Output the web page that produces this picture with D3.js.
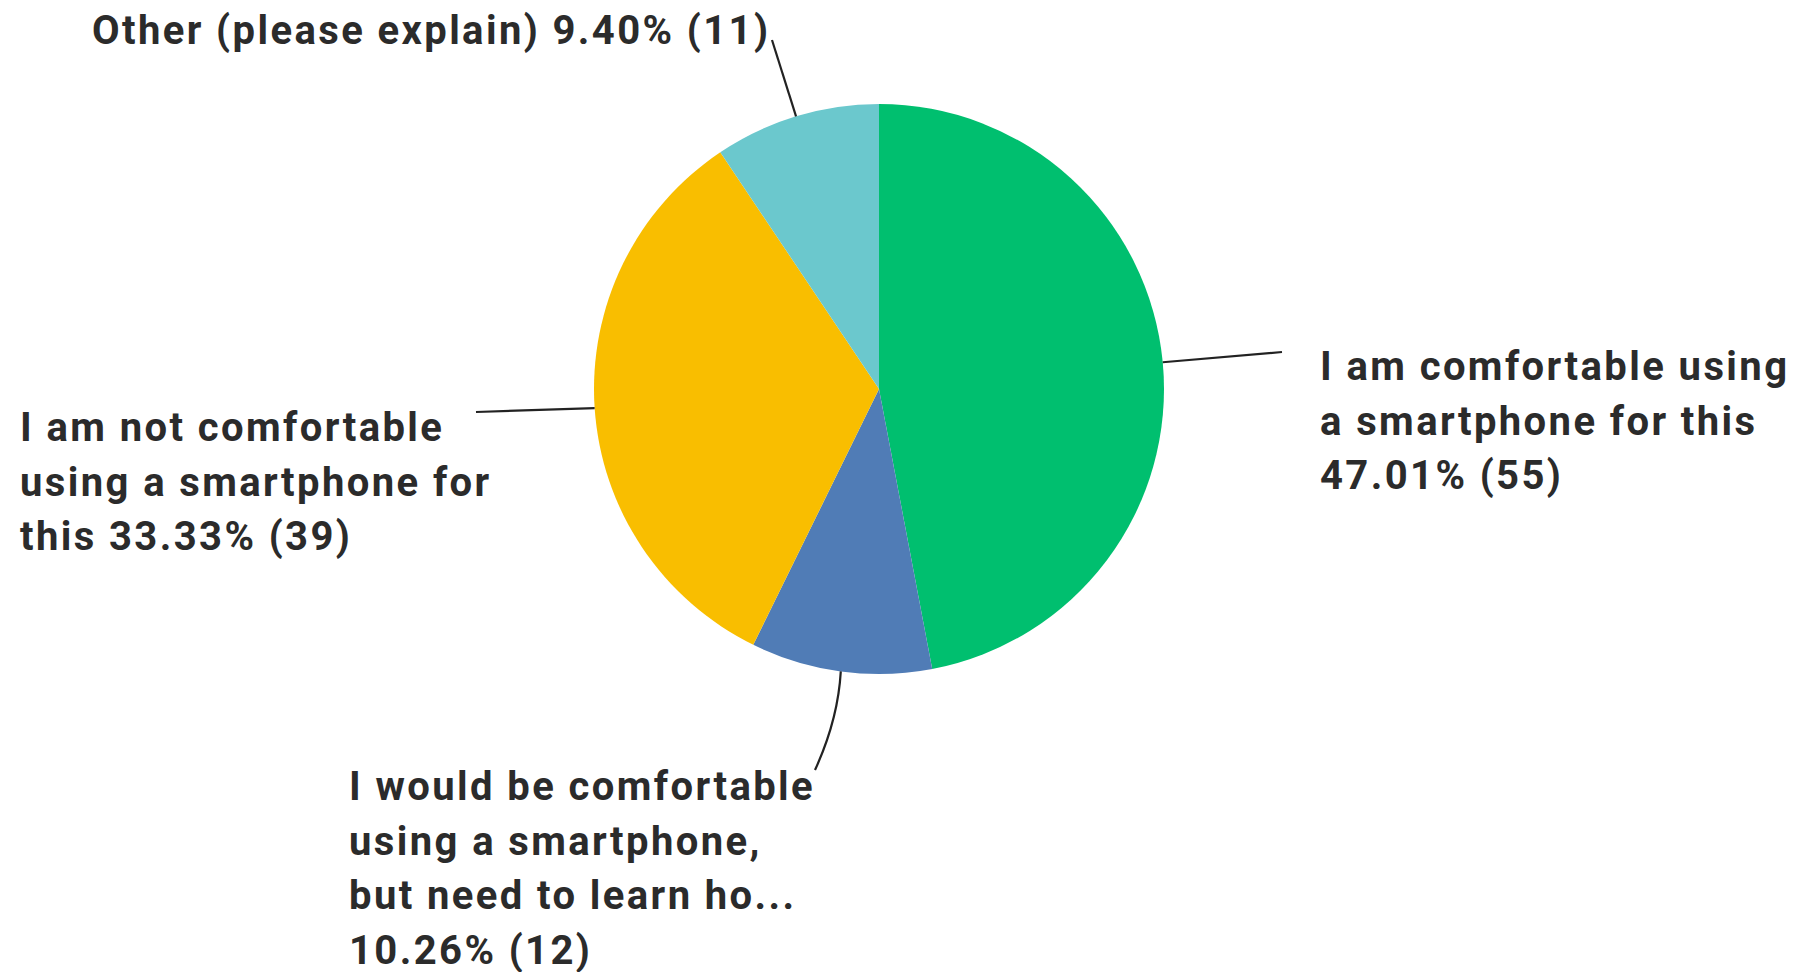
<!DOCTYPE html>
<html>
<head>
<meta charset="utf-8">
<script src="https://cdn.jsdelivr.net/npm/d3@7"></script>
<style>
  html, body { margin: 0; padding: 0; background: #ffffff; }
  svg { display: block; }
  .lbl { font-family: Roboto, "Noto Sans", sans-serif; font-weight: 700; fill: #2b2b2b; letter-spacing: 2.4px; }
</style>
</head>
<body>
<svg id="chart" width="1811" height="972"></svg>
<script>
// Survey answers, in the order they appear clockwise from 12 o'clock
const categories = [
  "I am comfortable using a smartphone for this",
  "I would be comfortable using a smartphone, but need to learn ho...",
  "I am not comfortable using a smartphone for this",
  "Other (please explain)"
];
const counts = [55, 12, 39, 11];
const percents = [47.01, 10.26, 33.33, 9.40];
const colors = ["#00BF6F", "#507CB6", "#F9BE00", "#6BC8CD"];

// Label text, broken into the lines shown next to each slice
const labelLines = [
  ["I am comfortable using", "a smartphone for this", "47.01% (55)"],
  ["I would be comfortable", "using a smartphone,", "but need to learn ho...", "10.26% (12)"],
  ["I am not comfortable", "using a smartphone for", "this 33.33% (39)"],
  ["Other (please explain) 9.40% (11)"]
];

const W = 1811, H = 972;
const cx = 879, cy = 389, R = 285;
const fontSize = 40, lineGap = 54.5;

// Where each label block sits and where its leader line bends/ends
const labelLayout = [
  { x: 1320, y: 366, end: [1282, 352], ctrl: null },
  { x: 349,  y: 786, end: [815, 770],  ctrl: [838, 720] },
  { x: 20,   y: 427, end: [476, 412],  ctrl: null },
  { x: 92,   y: 30,  end: [772, 40],   ctrl: null }
];

const svg = d3.select("#chart");
const g = svg.append("g").attr("transform", `translate(${cx},${cy})`);

const data = categories.map((c, i) => ({ name: c, count: counts[i], pct: percents[i], color: colors[i], i }));

const pie = d3.pie().value(d => d.pct).sort(null).startAngle(0).endAngle(2 * Math.PI);
const arcs = pie(data);
const arc = d3.arc().innerRadius(0).outerRadius(R);

g.selectAll("path.slice")
  .data(arcs)
  .join("path")
  .attr("class", "slice")
  .attr("d", arc)
  .attr("fill", d => d.data.color);

// Leader lines from the middle of each slice's outer edge to its label
const edgePoint = a => {
  const m = (a.startAngle + a.endAngle) / 2;
  return [cx + R * Math.sin(m), cy - R * Math.cos(m)];
};

svg.selectAll("path.leader")
  .data(arcs)
  .join("path")
  .attr("class", "leader")
  .attr("fill", "none")
  .attr("stroke", "#222")
  .attr("stroke-width", 2.2)
  .attr("d", d => {
    const p = edgePoint(d);
    const L = labelLayout[d.data.i];
    const path = d3.path();
    path.moveTo(p[0], p[1]);
    if (L.ctrl) path.quadraticCurveTo(L.ctrl[0], L.ctrl[1], L.end[0], L.end[1]);
    else path.lineTo(L.end[0], L.end[1]);
    return path.toString();
  });

// Label text blocks
data.forEach((d, i) => {
  const L = labelLayout[i];
  const t = svg.append("text")
    .attr("class", "lbl")
    .attr("font-size", fontSize)
    .attr("x", L.x)
    .attr("y", L.y)
    .attr("dominant-baseline", "central");
  labelLines[i].forEach((line, k) => {
    t.append("tspan").attr("x", L.x).attr("y", L.y + k * lineGap).text(line);
  });
});
</script>
</body>
</html>
